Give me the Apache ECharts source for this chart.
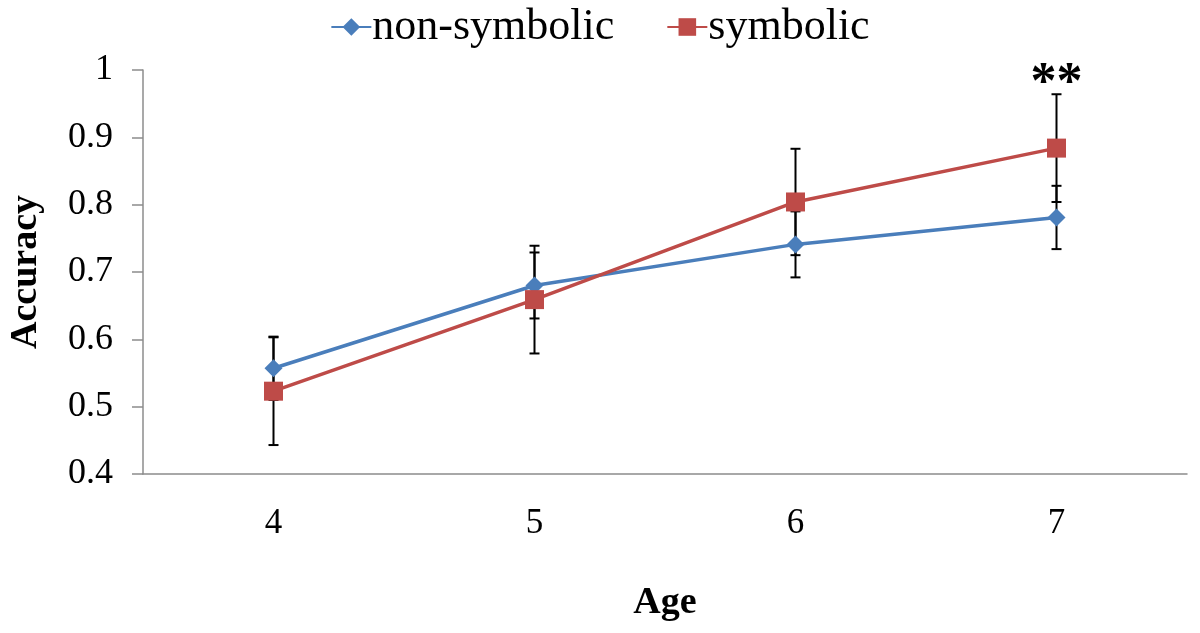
<!DOCTYPE html>
<html>
<head>
<meta charset="utf-8">
<script src="https://cdn.jsdelivr.net/npm/echarts@6/dist/echarts.min.js"></script>
<style>
  html, body { margin: 0; padding: 0; background: #fff; }
  #chart { width: 1200px; height: 633px; }
</style>
</head>
<body>
<div id="chart"></div>
<script>
var ages = ['4', '5', '6', '7'];
var nonSymbolic = [0.557, 0.680, 0.741, 0.781];
var nonSymbolicErr = [0.047, 0.049, 0.049, 0.047];
var symbolic = [0.523, 0.659, 0.804, 0.884];
var symbolicErr = [0.080, 0.080, 0.079, 0.080];
var sigMarks = ['', '', '', '**'];
var yTicks = [0.4, 0.5, 0.6, 0.7, 0.8, 0.9, 1];

var BLUE = '#4a7ebb';
var RED = '#be4b48';
var FONT = '"Liberation Serif", "Times New Roman", serif';

// error bar rows: [categoryIndex, value, err, label]
function errRows(vals, errs, marks) {
  return vals.map(function (v, i) {
    return [i, v, errs[i], marks ? marks[i] : ''];
  });
}

function renderErr(params, api) {
  var x = api.value(0);
  var v = api.value(1);
  var e = api.value(2);
  var top = api.coord([x, v + e]);
  var bot = api.coord([x, v - e]);
  var cap = 5;
  var style = { stroke: '#000', lineWidth: 2 };
  var children = [
    { type: 'line', shape: { x1: top[0], y1: top[1], x2: bot[0], y2: bot[1] }, style: style },
    { type: 'line', shape: { x1: top[0] - cap, y1: top[1], x2: top[0] + cap, y2: top[1] }, style: style },
    { type: 'line', shape: { x1: bot[0] - cap, y1: bot[1], x2: bot[0] + cap, y2: bot[1] }, style: style }
  ];
  var mark = api.value(3);
  if (mark) {
    children.push({
      type: 'text',
      style: {
        text: mark, x: top[0], y: top[1] + 16,
        align: 'center', verticalAlign: 'bottom',
        font: 'bold 52px ' + FONT, fill: '#000'
      }
    });
  }
  return { type: 'group', children: children };
}

var option = {
  backgroundColor: '#fff',
  animation: false,
  textStyle: { fontFamily: FONT },
  legend: {
    top: 0,
    left: 'center',
    itemWidth: 40,
    itemHeight: 22,
    itemGap: 52,
    textStyle: { fontSize: 44, color: '#000', fontFamily: FONT, padding: [0, 0, 0, -4] },
    data: ['non-symbolic', 'symbolic']
  },
  grid: { left: 143, right: 13, top: 70, bottom: 159, outerBoundsMode: 'none', containLabel: false },
  xAxis: {
    type: 'category',
    data: ages,
    boundaryGap: true,
    name: 'Age',
    nameLocation: 'middle',
    nameGap: 110,
    nameTextStyle: { fontSize: 38, fontWeight: 'bold', color: '#000', fontFamily: FONT },
    axisLine: { lineStyle: { color: '#8c8c8c', width: 1.5 } },
    axisTick: { length: 10, lineStyle: { color: '#8c8c8c', width: 1.5 } },
    axisLabel: { fontSize: 35, color: '#000', margin: 32, fontFamily: FONT },
    splitLine: { show: false }
  },
  yAxis: {
    type: 'value',
    min: yTicks[0],
    max: yTicks[yTicks.length - 1],
    interval: 0.1,
    name: 'Accuracy',
    nameLocation: 'middle',
    nameGap: 98,
    nameTextStyle: { fontSize: 38, fontWeight: 'bold', color: '#000', fontFamily: FONT },
    axisLine: { show: true, lineStyle: { color: '#8c8c8c', width: 1.5 } },
    axisTick: { show: true, length: 11, lineStyle: { color: '#8c8c8c', width: 1.5 } },
    axisLabel: {
      fontSize: 36, color: '#000', margin: 30, fontFamily: FONT,
      formatter: function (v) { return v === 1 ? '1' : v.toFixed(1); }
    },
    splitLine: { show: false }
  },
  series: [
    {
      name: 'non-symbolic err',
      type: 'custom',
      renderItem: renderErr,
      data: errRows(nonSymbolic, nonSymbolicErr),
      z: 1,
      silent: true
    },
    {
      name: 'symbolic err',
      type: 'custom',
      renderItem: renderErr,
      data: errRows(symbolic, symbolicErr, sigMarks),
      z: 1,
      silent: true
    },
    {
      name: 'non-symbolic',
      type: 'line',
      data: nonSymbolic,
      symbol: 'diamond',
      symbolSize: 18,
      lineStyle: { color: BLUE, width: 3.5 },
      itemStyle: { color: BLUE },
      z: 3
    },
    {
      name: 'symbolic',
      type: 'line',
      data: symbolic,
      symbol: 'rect',
      symbolSize: 19,
      lineStyle: { color: RED, width: 3.5 },
      itemStyle: { color: RED },
      z: 4
    }
  ]
};

var chart = echarts.init(document.getElementById('chart'));
chart.setOption(option);
</script>
</body>
</html>
